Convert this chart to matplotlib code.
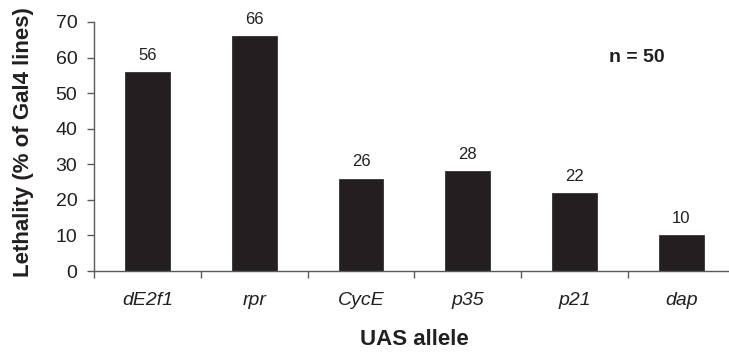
import numpy as np
import matplotlib.pyplot as plt

# data
alleles = ['dE2f1', 'rpr', 'CycE', 'p35', 'p21', 'dap']
lethality = [56, 66, 26, 28, 22, 10]
y_ticks = [0, 10, 20, 30, 40, 50, 60, 70]

dark = '#231f20'
axis_grey = '#5a5a5c'

plt.rcParams['font.family'] = ['Liberation Sans', 'DejaVu Sans']

fig = plt.figure(figsize=(7.29, 3.52), dpi=100)
W, H = 729, 352
# axes placed in pixels; the right end runs past the figure edge like the original
left, bottom, width, height = 94, 81, 640.8, 249
ax = fig.add_axes([left / W, bottom / H, width / W, height / H])

x = np.arange(len(alleles))
bars = ax.bar(x, lethality, width=0.42, color=dark, edgecolor=dark, linewidth=0.5)

for xi, v in zip(x, lethality):
    ax.annotate(str(v), (xi, v), xytext=(0, 6.5), textcoords='offset points',
                ha='center', va='bottom', fontsize=12, color=dark)

ax.set_xlim(-0.5, len(alleles) - 0.5)
ax.set_ylim(0, 70)
ax.set_yticks(y_ticks)
ax.set_xticks(x)
ax.set_xticklabels(alleles, fontstyle='italic', fontsize=14, color=dark)
ax.set_xticks(np.arange(len(alleles) + 1) - 0.5, minor=True)
ax.tick_params(axis='x', which='major', length=0, pad=15)
ax.tick_params(axis='x', which='minor', length=5, width=1, color=axis_grey, direction='out')
ax.tick_params(axis='y', length=5, width=1, color=axis_grey, labelsize=14,
               labelcolor=dark, pad=7)

for side in ['top', 'right']:
    ax.spines[side].set_visible(False)
for side in ['left', 'bottom']:
    ax.spines[side].set_color(axis_grey)
    ax.spines[side].set_linewidth(1)

ax.set_ylabel('Lethality (% of Gal4 lines)', fontsize=16, fontweight='bold', color=dark)
ax.yaxis.set_label_coords(-0.094, 0.516)
ax.set_xlabel('UAS allele', fontsize=16, fontweight='bold', color=dark)
ax.xaxis.set_label_coords(0.5, -0.232)

ax.text(0.847, 0.859, 'n = 50', transform=ax.transAxes, ha='center', va='center',
        fontsize=14, fontweight='bold', color=dark)

fig.savefig('out.png', dpi=100)
